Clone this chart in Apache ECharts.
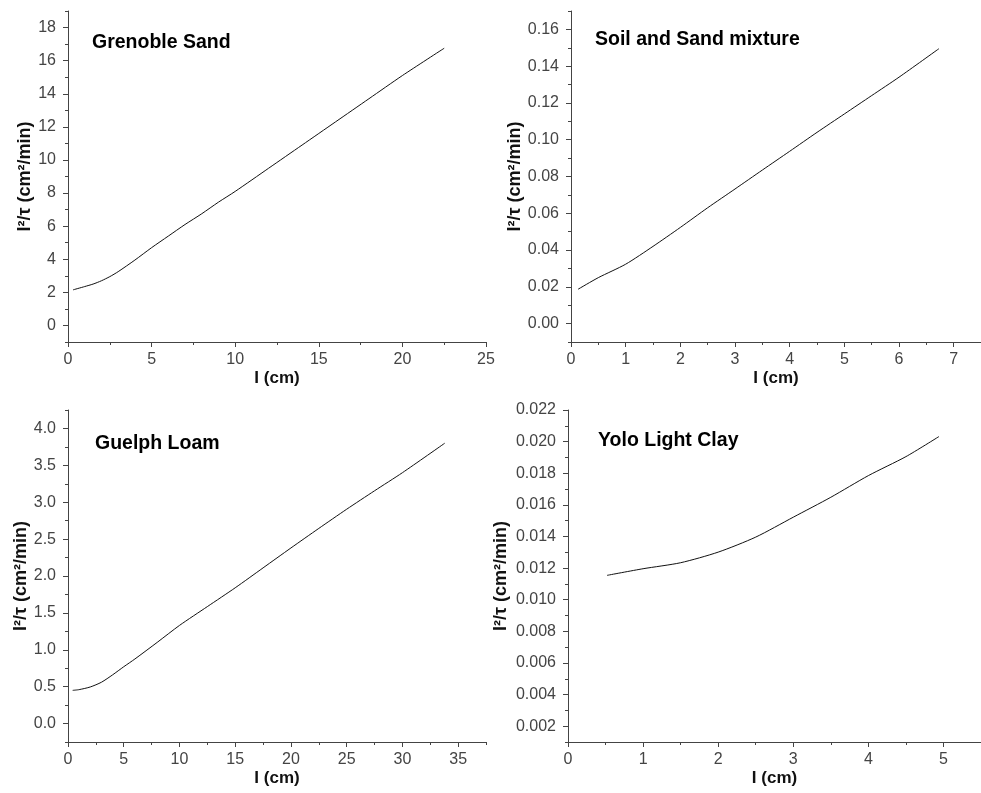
<!DOCTYPE html>
<html>
<head>
<meta charset="utf-8">
<script src="https://cdn.jsdelivr.net/npm/echarts@6/dist/echarts.min.js"></script>
<style>
  html, body { margin: 0; padding: 0; background: #fff; }
  #chart { width: 981px; height: 793px; }
</style>
</head>
<body>
<div id="chart"></div>
<script>
// Infiltration rate l²/τ against wetting depth l, four soils

// Grenoble Sand
const grenobleL = [0.3, 1, 1.5, 2, 2.5, 3, 4, 5, 6, 7, 8, 9, 10, 12, 14, 16, 18, 20, 22.5];
const grenobleRate = [2.15, 2.35, 2.5, 2.7, 2.95, 3.25, 3.95, 4.7, 5.4, 6.1, 6.75, 7.45, 8.1, 9.5, 10.9, 12.3, 13.7, 15.1, 16.75];
const grenobleXTicks = [0, 5, 10, 15, 20, 25];
const grenobleYTicks = [0, 2, 4, 6, 8, 10, 12, 14, 16, 18];

// Soil and Sand mixture
const mixtureL = [0.13, 0.5, 1, 1.5, 2, 2.5, 3, 3.5, 4, 4.5, 5, 5.5, 6, 6.73];
const mixtureRate = [0.0187, 0.025, 0.0323, 0.042, 0.0523, 0.063, 0.0732, 0.0835, 0.0937, 0.104, 0.114, 0.124, 0.134, 0.1495];
const mixtureXTicks = [0, 1, 2, 3, 4, 5, 6, 7];
const mixtureYTicks = [0, 0.02, 0.04, 0.06, 0.08, 0.10, 0.12, 0.14, 0.16];

// Guelph Loam
const guelphL = [0.42, 1, 2, 3, 4, 5, 6, 8, 10, 12.5, 15, 17.5, 20, 22.5, 25, 27.5, 30, 33.8];
const guelphRate = [0.45, 0.46, 0.496, 0.56, 0.66, 0.77, 0.875, 1.1, 1.33, 1.585, 1.84, 2.11, 2.38, 2.645, 2.905, 3.155, 3.40, 3.80];
const guelphXTicks = [0, 5, 10, 15, 20, 25, 30, 35];
const guelphYTicks = [0, 0.5, 1.0, 1.5, 2.0, 2.5, 3.0, 3.5, 4.0];

// Yolo Light Clay
const yoloL = [0.52, 1, 1.5, 2, 2.5, 3, 3.5, 4, 4.5, 4.94];
const yoloRate = [0.01154, 0.01196, 0.01234, 0.01301, 0.01396, 0.01522, 0.01648, 0.01785, 0.01905, 0.02032];
const yoloXTicks = [0, 1, 2, 3, 4, 5];
const yoloYTicks = [0.002, 0.004, 0.006, 0.008, 0.010, 0.012, 0.014, 0.016, 0.018, 0.020, 0.022];

const panelTitles = ['Grenoble Sand', 'Soil and Sand mixture', 'Guelph Loam', 'Yolo Light Clay'];
const xName = 'I (cm)';
const yName = 'I\u00B2/\u03C4 (cm\u00B2/min)';

const AXIS_COLOR = '#444';
const LABEL_COLOR = '#444';
const FONT = 'Liberation Sans, Arial, sans-serif';

const panels = [
  { title: panelTitles[0], xs: grenobleL, ys: grenobleRate, xTicks: grenobleXTicks, yTicks: grenobleYTicks,
    grid: { left: 68, top: 11, width: 418, height: 331 },
    xMin: 0, xMax: 25, xMinor: 2.5, yMin: -1, yMax: 19, yMinor: 1, yDec: 0, yNameGap: 31,
    titlePos: { left: 92, top: 33 } },
  { title: panelTitles[1], xs: mixtureL, ys: mixtureRate, xTicks: mixtureXTicks, yTicks: mixtureYTicks,
    grid: { left: 571, top: 11, width: 418, height: 331 },
    xMin: 0, xMax: 7.5, xMinor: 0.5, yMin: -0.01, yMax: 0.17, yMinor: 0.01, yDec: 2, yNameGap: 44,
    titlePos: { left: 595, top: 30 } },
  { title: panelTitles[2], xs: guelphL, ys: guelphRate, xTicks: guelphXTicks, yTicks: guelphYTicks,
    grid: { left: 68, top: 410, width: 418, height: 332 },
    xMin: 0, xMax: 37.5, xMinor: 2.5, yMin: -0.25, yMax: 4.25, yMinor: 0.25, yDec: 1, yNameGap: 38,
    titlePos: { left: 95, top: 434 } },
  { title: panelTitles[3], xs: yoloL, ys: yoloRate, xTicks: yoloXTicks, yTicks: yoloYTicks,
    grid: { left: 568, top: 410, width: 418, height: 332 },
    xMin: 0, xMax: 5.5, xMinor: 0.5, yMin: 0.001, yMax: 0.022, yMinor: 0.001, yDec: 3, yNameGap: 58,
    titlePos: { left: 598, top: 431 } }
];

const grids = [], xAxes = [], yAxes = [], series = [], titles = [];

panels.forEach((p, i) => {
  grids.push(Object.assign({ containLabel: false }, p.grid));

  const labelStyle = { color: LABEL_COLOR, fontFamily: FONT, fontSize: 16 };
  const xNameStyle = { color: '#111', fontFamily: FONT, fontSize: 17, fontWeight: 'bold' };
  const yNameStyle = { color: '#111', fontFamily: FONT, fontSize: 18, fontWeight: 'bold' };

  // main x axis: line, major ticks, labels, title
  xAxes.push({
    type: 'value', gridIndex: i, position: 'bottom', min: p.xMin, max: p.xMax,
    axisLine: { onZero: false, lineStyle: { color: AXIS_COLOR, width: 1 } },
    axisTick: { customValues: p.xTicks, length: 5, lineStyle: { color: AXIS_COLOR } },
    axisLabel: { customValues: p.xTicks, margin: 10, formatter: v => String(v), ...labelStyle },
    splitLine: { show: false },
    name: xName, nameLocation: 'middle', nameGap: 28, nameTextStyle: xNameStyle
  });
  // minor x ticks
  xAxes.push({
    type: 'value', gridIndex: i, position: 'bottom', min: p.xMin, max: p.xMax, interval: p.xMinor,
    axisLine: { show: false, onZero: false },
    axisTick: { length: 3, lineStyle: { color: AXIS_COLOR } },
    axisLabel: { show: false }, splitLine: { show: false }
  });

  // main y axis
  yAxes.push({
    type: 'value', gridIndex: i, position: 'left', min: p.yMin, max: p.yMax,
    axisLine: { show: true, onZero: false, lineStyle: { color: AXIS_COLOR, width: 1 } },
    axisTick: { show: true, customValues: p.yTicks, length: 5, lineStyle: { color: AXIS_COLOR } },
    axisLabel: { customValues: p.yTicks, margin: 12, formatter: v => Number(v).toFixed(p.yDec), ...labelStyle },
    splitLine: { show: false },
    name: yName, nameLocation: 'middle', nameRotate: 90,
    nameGap: p.yNameGap, nameTextStyle: yNameStyle
  });
  // minor y ticks
  yAxes.push({
    type: 'value', gridIndex: i, position: 'left', min: p.yMin, max: p.yMax, interval: p.yMinor,
    axisLine: { show: false, onZero: false },
    axisTick: { show: true, length: 3, lineStyle: { color: AXIS_COLOR } },
    axisLabel: { show: false }, splitLine: { show: false }
  });

  series.push({
    type: 'line', xAxisIndex: i * 2, yAxisIndex: i * 2,
    data: p.xs.map((x, k) => [x, p.ys[k]]),
    showSymbol: false, smooth: 0.25,
    lineStyle: { color: '#111', width: 1 },
    silent: true, animation: false
  });

  titles.push({
    text: p.title, left: p.titlePos.left, top: p.titlePos.top, padding: 0,
    textStyle: { fontFamily: FONT, fontSize: 19.5, fontWeight: 'bold', color: '#000' }
  });
});

const chart = echarts.init(document.getElementById('chart'), null, { renderer: 'canvas' });
chart.setOption({
  backgroundColor: '#fff',
  animation: false,
  title: titles,
  grid: grids,
  xAxis: xAxes,
  yAxis: yAxes,
  series: series
});
</script>
</body>
</html>
